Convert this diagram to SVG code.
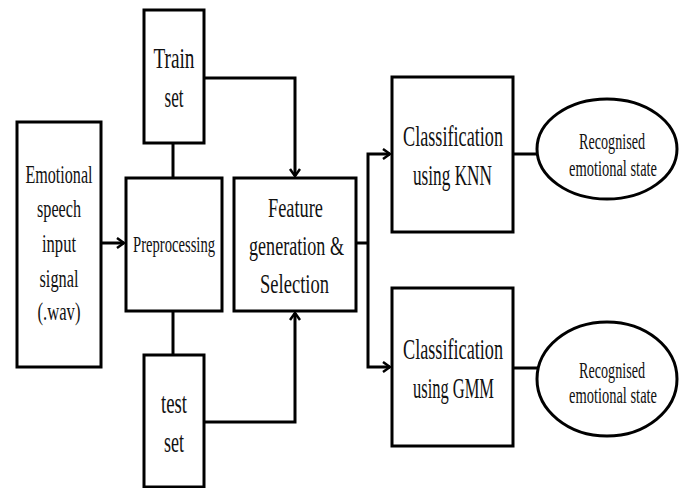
<svg xmlns="http://www.w3.org/2000/svg" width="679" height="488" viewBox="0 0 679 488">
<style>
.box{fill:#fff;stroke:#000;stroke-width:3}
.conn{fill:none;stroke:#000;stroke-width:3}
text{font-family:"Liberation Serif","Times New Roman",serif;fill:#111;text-anchor:middle}
</style>
<defs>
<marker id="arr" markerUnits="userSpaceOnUse" markerWidth="14" markerHeight="14" refX="10" refY="6" orient="auto">
<path d="M3,1 L10,6 L3,11" fill="none" stroke="#000" stroke-width="2.5"/>
</marker>
</defs>
<rect width="679" height="488" fill="#fff"/>
<g id="connectors">
<line class="conn" x1="173" y1="143" x2="173" y2="178"/>
<line class="conn" x1="173" y1="311" x2="173" y2="355"/>
<path class="conn" d="M101,243 L124,243" marker-end="url(#arr)"/>
<path class="conn" d="M204,78 L295,78 L295,176" marker-end="url(#arr)"/>
<path class="conn" d="M204,422 L295,422 L295,313" marker-end="url(#arr)"/>
<path class="conn" d="M356,243 L368,243"/>
<path class="conn" d="M368,243 L368,154 L390,154" marker-end="url(#arr)"/>
<path class="conn" d="M368,243 L368,367 L390,367" marker-end="url(#arr)"/>
<line class="conn" x1="513" y1="154" x2="538" y2="154"/>
<line class="conn" x1="513" y1="368" x2="538" y2="368"/>
</g>
<g id="emotional">
<rect class="box" x="17" y="122" width="84" height="245"/>
<text font-size="25" x="59" y="183" textLength="67" lengthAdjust="spacingAndGlyphs">Emotional</text>
<text font-size="25" x="59" y="217" textLength="44" lengthAdjust="spacingAndGlyphs">speech</text>
<text font-size="25" x="59" y="252" textLength="34" lengthAdjust="spacingAndGlyphs">input</text>
<text font-size="25" x="59" y="287" textLength="39" lengthAdjust="spacingAndGlyphs">signal</text>
<text font-size="25" x="59" y="320" textLength="43" lengthAdjust="spacingAndGlyphs">(.wav)</text>
</g>
<g id="train">
<rect class="box" x="144" y="10" width="60" height="133"/>
<text font-size="30" x="174" y="68" textLength="41" lengthAdjust="spacingAndGlyphs">Train</text>
<text font-size="30" x="174" y="107" textLength="19" lengthAdjust="spacingAndGlyphs">set</text>
</g>
<g id="preprocessing">
<rect class="box" x="126" y="178" width="96" height="133"/>
<text font-size="23" x="174" y="252" textLength="82" lengthAdjust="spacingAndGlyphs">Preprocessing</text>
</g>
<g id="test">
<rect class="box" x="144" y="355" width="60" height="132"/>
<text font-size="30" x="174" y="413" textLength="26" lengthAdjust="spacingAndGlyphs">test</text>
<text font-size="30" x="174" y="452" textLength="20" lengthAdjust="spacingAndGlyphs">set</text>
</g>
<g id="feature">
<rect class="box" x="234" y="178" width="122" height="133"/>
<text font-size="28" x="295.5" y="217" textLength="55" lengthAdjust="spacingAndGlyphs">Feature</text>
<text font-size="28" x="296.5" y="255" textLength="95" lengthAdjust="spacingAndGlyphs">generation &amp;</text>
<text font-size="28" x="294.5" y="293" textLength="69" lengthAdjust="spacingAndGlyphs">Selection</text>
</g>
<g id="knn">
<rect class="box" x="392" y="77" width="121" height="155"/>
<text font-size="29" x="453" y="146" textLength="100" lengthAdjust="spacingAndGlyphs">Classification</text>
<text font-size="29" x="452.5" y="185" textLength="79" lengthAdjust="spacingAndGlyphs">using KNN</text>
</g>
<g id="gmm">
<rect class="box" x="392" y="288" width="121" height="158"/>
<text font-size="29" x="453" y="359" textLength="100" lengthAdjust="spacingAndGlyphs">Classification</text>
<text font-size="29" x="453.5" y="398" textLength="81" lengthAdjust="spacingAndGlyphs">using GMM</text>
</g>
<g id="state1">
<ellipse class="box" cx="607" cy="149" rx="70" ry="50"/>
<text font-size="23" x="612" y="149" textLength="66" lengthAdjust="spacingAndGlyphs">Recognised</text>
<text font-size="23" x="613" y="176" textLength="88" lengthAdjust="spacingAndGlyphs">emotional state</text>
</g>
<g id="state2">
<ellipse class="box" cx="607" cy="379" rx="70" ry="57"/>
<text font-size="23" x="612" y="378" textLength="66" lengthAdjust="spacingAndGlyphs">Recognised</text>
<text font-size="23" x="613" y="403" textLength="88" lengthAdjust="spacingAndGlyphs">emotional state</text>
</g>
</svg>
